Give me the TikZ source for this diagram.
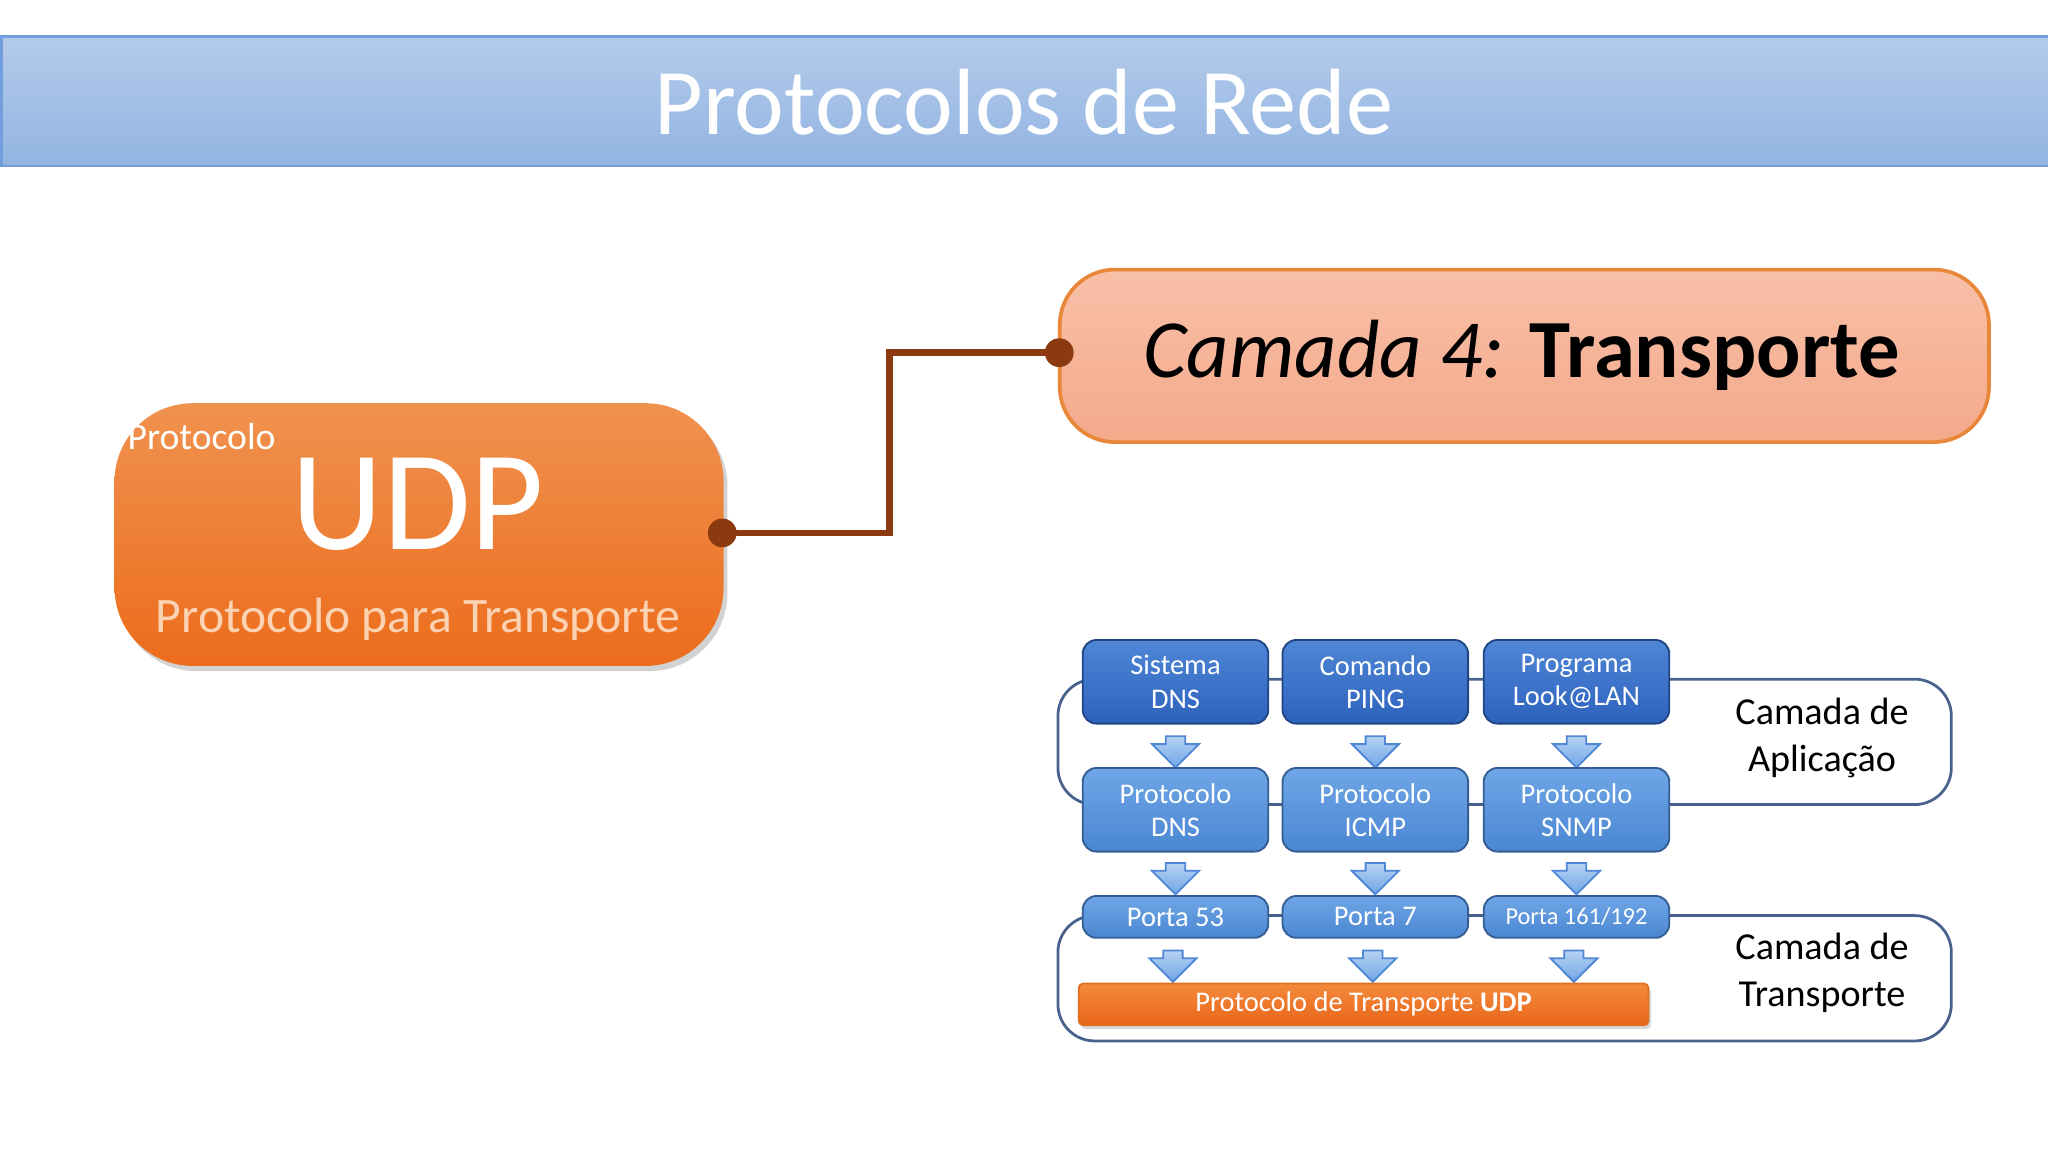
\documentclass[tikz,border=0pt]{standalone}
\usepackage{fontspec}
\setmainfont{Carlito}
\usetikzlibrary{shapes.arrows,shadows}
\definecolor{brn}{HTML}{8B3A0F}
\definecolor{bt}{HTML}{4F86D6}
\definecolor{bb}{HTML}{2D62BC}
\definecolor{lt}{HTML}{6FA6E6}
\definecolor{lb}{HTML}{4A86D2}
\definecolor{tt}{HTML}{B4CBEA}
\definecolor{tb}{HTML}{92B4E2}
\definecolor{cd}{HTML}{E8873A}
\definecolor{ct}{HTML}{F8C0A8}
\definecolor{cb}{HTML}{F4A98A}
\definecolor{ut}{HTML}{F0924F}
\definecolor{ub}{HTML}{EC6C1C}
\definecolor{ux}{HTML}{FBD3B3}
\definecolor{od}{HTML}{E07020}
\definecolor{ot}{HTML}{F48A3C}
\definecolor{ob}{HTML}{E8661A}
\tikzset{
 px/.style={x=0.01cm,y=-0.01cm},
 fs/.style={font=\fontsize{#1}{#1}\selectfont},
 bx/.style={draw=bb!70!black,rounded corners=3,top color=bt,bottom color=bb,text=white,minimum width=1.42cm,align=center,inner sep=0,fs=6.2},
 bx2/.style={bx,top color=lt,bottom color=lb,draw=lb!70!black},
 arr/.style={single arrow,draw=bt,top color=lt!50,bottom color=lt,shape border rotate=270,minimum height=0.24cm,minimum width=0.36cm,single arrow head extend=0.06cm,inner sep=0.035cm},
 frame/.style={draw=bb!60!black!80,line width=0.6pt,rounded corners=8},
 dot/.style={circle,fill=brn,inner sep=0,minimum size=0.22cm},
}
\begin{document}
\begin{tikzpicture}[px]
\useasboundingbox[fill=white] (0,0) rectangle (1568,882);
% title
\node[draw=bt!80,line width=0.6pt,top color=tt,bottom color=tb,minimum width=15.68cm,minimum height=0.99cm,anchor=north west,inner sep=0] (title) at (0,27) {};
\node[text=white,fs=20.5] at (784,78) {Protocolos de Rede};
% camada box
\node[draw=cd,line width=0.8pt,rounded corners=12,top color=ct,bottom color=cb,minimum width=7.11cm,minimum height=1.32cm,anchor=north west] (cam) at (810,205) {};
\node[fs=18] at (1165,272) {\textit{Camada 4:} \textbf{Transporte}};
% UDP box
\node[rounded corners=17,top color=ut,bottom color=ub,minimum width=4.66cm,minimum height=2.01cm,anchor=north west,drop shadow={opacity=0.35,shadow xshift=0.03cm,shadow yshift=-0.04cm}] (udp) at (87,308) {};
\node[text=white,fs=8.2,anchor=west,inner sep=0] at (97,334) {Protocolo};
\node[text=white,fs=31] at (320,386) {UDP};
\node[text=ux,fs=10.8] at (320,474) {Protocolo para Transporte};
% connector
\node[dot] (d1) at (553,408) {};
\node[dot] (d2) at (811,270) {};
\draw[brn,line width=0.05cm] (d1.center) -- (681,408) -- (681,270) -- (d2.center);
% frames
\draw[frame] (810,520) rectangle (1494,616);
\draw[frame] (810,701) rectangle (1494,797);
\node[fs=8.3,align=center] at (1395,565) {Camada de\\[2pt]Aplicação};
\node[fs=8.3,align=center] at (1395,745) {Camada de\\[2pt]Transporte};
% boxes
\foreach \x/\a/\b/\n in {900/Sistema/DNS/1,1053/Comando/PING/2,1207/Programa/Look@LAN/3}{
 \node[bx,minimum height=0.64cm] (a\n) at (\x,522) {\a\\[1pt]\b};
 \node[arr] (p\n) at (\x,572) {};
}
\foreach \x/\b/\n in {900/DNS/1,1053/ICMP/2,1207/SNMP/3}{
 \node[bx2,minimum height=0.64cm] (b\n) at (\x,620) {Protocolo\\[1pt]\b};
 \node[arr] (q\n) at (\x,669) {};
 \node[arr] (r\n) at (\x-2,736) {};
}
\node[bx2,minimum height=0.32cm] (c1) at (900,702) {Porta 53};
\node[bx2,minimum height=0.32cm] (c2) at (1053,702) {Porta 7};
\node[bx2,minimum height=0.32cm,fs=5.3] (c3) at (1207,702) {Porta 161/192};
\node[draw=od,rounded corners=1,top color=ot,bottom color=ob,minimum width=4.36cm,minimum height=0.32cm,inner sep=0,text=white,fs=6.2,drop shadow={opacity=0.3,shadow xshift=0.02cm,shadow yshift=-0.03cm}] (bar) at (1044,769) {Protocolo de Transporte \textbf{UDP}};
\end{tikzpicture}
\end{document}
